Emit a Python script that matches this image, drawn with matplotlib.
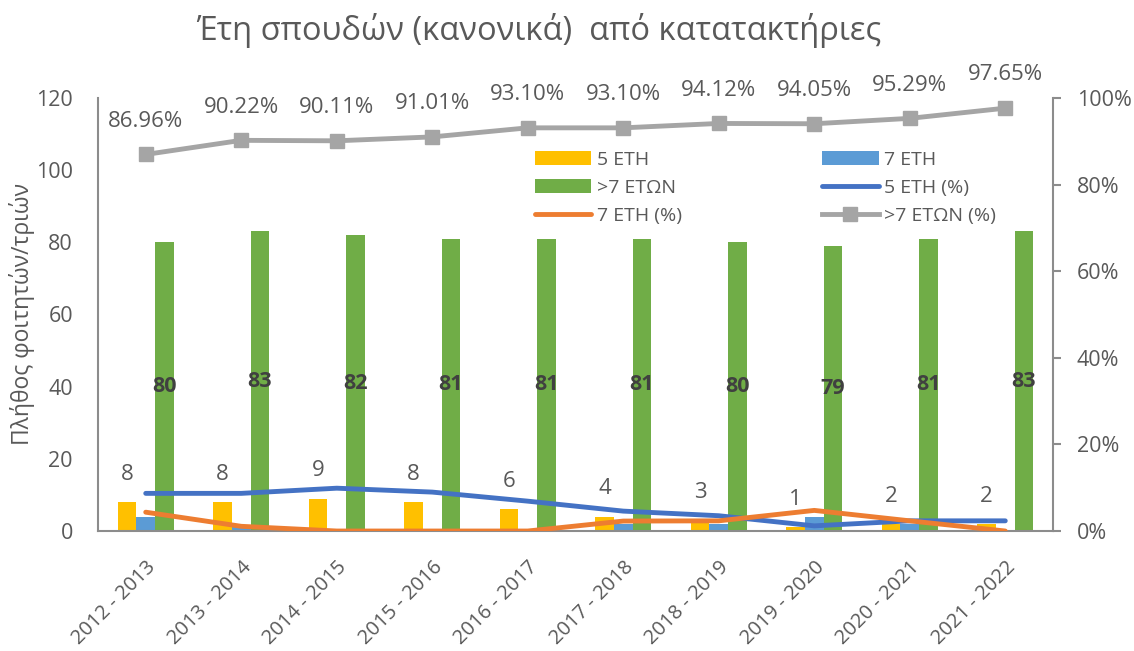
import numpy as np
import matplotlib
matplotlib.use("Agg")
import matplotlib.pyplot as plt
from matplotlib.ticker import PercentFormatter

plt.rcParams["font.family"] = ["Open Sans", "Noto Sans", "DejaVu Sans"]

# ── data ──
years = ["2012 - 2013", "2013 - 2014", "2014 - 2015", "2015 - 2016", "2016 - 2017",
         "2017 - 2018", "2018 - 2019", "2019 - 2020", "2020 - 2021", "2021 - 2022"]
eth5 = [8, 8, 9, 8, 6, 4, 3, 1, 2, 2]
eth7 = [4, 1, 0, 0, 0, 2, 2, 4, 2, 0]
eth_over7 = [80, 83, 82, 81, 81, 81, 80, 79, 81, 83]

total = np.array(eth5) + np.array(eth7) + np.array(eth_over7)
pct5 = np.array(eth5) / total
pct7 = np.array(eth7) / total
pct_over7 = np.array(eth_over7) / total

# colours (Office palette)
YELLOW = "#FFC000"
LBLUE = "#5B9BD5"
GREEN = "#70AD47"
DBLUE = "#4472C4"
ORANGE = "#ED7D31"
GREY = "#A5A5A5"
TXT = "#595959"
SPINE = "#8C8C8C"

fig = plt.figure(figsize=(11.34, 6.51), dpi=100, facecolor="white")
ax = fig.add_axes([0.0864, 0.1843, 0.8422, 0.6652])
ax2 = ax.twinx()

x = np.arange(len(years))
w = 0.195

b5 = ax.bar(x - w, eth5, w, color=YELLOW, label="5 ETH")
b7 = ax.bar(x, eth7, w, color=LBLUE, label="7 ETH")
bo = ax.bar(x + w, eth_over7, w, color=GREEN, label=">7 ETΩN")

# labels on bars
for xi, v in zip(x, eth5):
    ax.annotate(str(v), (xi - w, v), xytext=(0, 20), textcoords="offset points",
                ha="center", va="center", fontsize=16, color=TXT)
for xi, v in zip(x, eth_over7):
    ax.text(xi + w, v / 2, str(v), ha="center", va="center", fontsize=15.5,
            fontweight="bold", color="#404040")

# percentage lines on secondary axis
l5, = ax2.plot(x, pct5, color=DBLUE, lw=3.5, solid_capstyle="round", label="5 ETH (%)")
l7, = ax2.plot(x, pct7, color=ORANGE, lw=3.5, solid_capstyle="round", label="7 ETH (%)")
lo, = ax2.plot(x, pct_over7, color=GREY, lw=3.5, marker="s", markersize=9.5,
               label=">7 ETΩN (%)")
for xi, v in zip(x, pct_over7):
    ax2.annotate(f"{v * 100:.2f}%", (xi, v), xytext=(0, 24), textcoords="offset points",
                 ha="center", va="center", fontsize=16, color=TXT)

# axes styling
ax.set_xlim(-0.5, len(years) - 0.5)
ax.set_ylim(0, 120)
ax.set_yticks(np.arange(0, 121, 20))
ax2.set_ylim(0, 1)
ax2.set_yticks(np.arange(0, 1.01, 0.2))
ax2.yaxis.set_major_formatter(PercentFormatter(1.0, decimals=0))

ax.set_xticks(x)
ax.set_xticklabels(years, rotation=45, ha="right", rotation_mode="anchor")
ax.tick_params(axis="x", length=0, pad=19, labelsize=14.5, labelcolor=TXT)
ax.tick_params(axis="y", length=0, pad=18, labelsize=15.5, labelcolor=TXT)
ax2.tick_params(axis="y", length=6, width=1.5, color=SPINE, pad=11,
                labelsize=15.5, labelcolor=TXT)

for a in (ax, ax2):
    for s in a.spines.values():
        s.set_visible(False)
ax.spines["left"].set_visible(True)
ax.spines["bottom"].set_visible(True)
ax2.spines["right"].set_visible(True)
for s in (ax.spines["left"], ax.spines["bottom"], ax2.spines["right"]):
    s.set_color(SPINE)
    s.set_linewidth(1.5)

ax.set_ylabel("Πλήθος φοιτητών/τριών", fontsize=16.5, color=TXT)
ax.yaxis.set_label_coords(-0.066, 0.5)
fig.suptitle("Έτη σπουδών (κανονικά)  από κατατακτήριες", fontsize=23.5, color=TXT,
             x=0.475, y=0.98)

handles = [b5, bo, l7, b7, l5, lo]
labels = [h.get_label() for h in handles]
leg = ax2.legend(handles, labels, ncol=2, loc="upper left",
                 bbox_to_anchor=(535 / 1134, 1 - 151 / 651), bbox_transform=fig.transFigure,
                 frameon=False, fontsize=14, handlelength=2.9, handletextpad=0.3,
                 columnspacing=7.2, labelspacing=0.52, borderpad=0, borderaxespad=0,
                 labelcolor=TXT)

fig.savefig("out.png", dpi=100, facecolor="white")
